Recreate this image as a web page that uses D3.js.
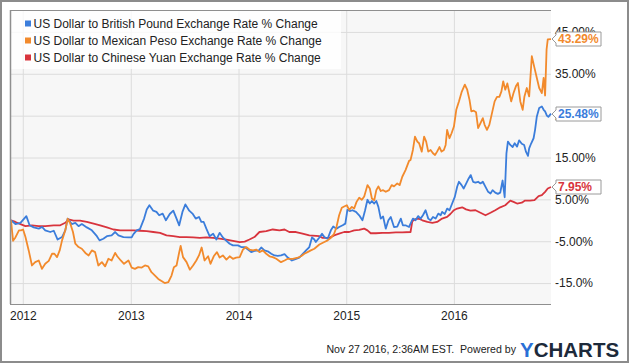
<!DOCTYPE html>
<html><head><meta charset="utf-8">
<script src="https://cdn.jsdelivr.net/npm/d3@7"></script>
<style>
html,body{margin:0;padding:0;background:#fff;}
svg{display:block;font-family:"Liberation Sans",Arial,sans-serif;}
</style></head>
<body>
<svg id="chart" width="631" height="364"></svg>
<script>
const seriesNames = [
  "US Dollar to British Pound Exchange Rate % Change",
  "US Dollar to Mexican Peso Exchange Rate % Change",
  "US Dollar to Chinese Yuan Exchange Rate % Change"
];
const seriesColors = ["#3b7ddb", "#f28a2c", "#d8343d"];
const endLabels = ["25.48%", "43.29%", "7.95%"];
const yTicks = [45, 35, 25, 15, 5, -5, -15];
const yTickLabels = ["45.00%", "35.00%", "25.00%", "15.00%", "5.00%", "-5.00%", "-15.0%"];
const xTicks = ["2012-01-01", "2013-01-01", "2014-01-01", "2015-01-01", "2016-01-01"];
const xTickLabels = ["2012", "2013", "2014", "2015", "2016"];

const gbp = [
["2011-11-22",0],["2011-12-07",-0.9],["2011-12-24",-0.6],["2012-01-13",1.0],["2012-01-24",-1.2],
["2012-02-07",-1.7],["2012-02-24",-2.0],["2012-03-06",-1.6],["2012-03-17",-2.4],["2012-04-03",-2.8],
["2012-04-15",-2.5],["2012-04-28",-4.6],["2012-05-13",-4.0],["2012-05-24",-2.4],["2012-06-01",0.4],
["2012-06-15",-0.9],["2012-06-27",-0.6],["2012-07-08",-1.4],["2012-07-19",-0.9],["2012-08-05",-1.7],
["2012-08-22",-2.4],["2012-09-08",-3.8],["2012-09-17",-4.8],["2012-09-30",-4.4],["2012-10-12",-3.8],
["2012-10-28",-3.6],["2012-11-09",-2.8],["2012-11-20",-3.6],["2012-12-07",-4.0],["2012-12-24",-4.1],
["2013-01-04",-4.1],["2013-01-10",-3.3],["2013-01-21",-2.4],["2013-02-01",-2.1],["2013-02-15",0.4],
["2013-02-24",2.6],["2013-03-05",3.6],["2013-03-18",2.3],["2013-03-29",2.0],["2013-04-07",1.2],
["2013-04-19",1.6],["2013-04-30",0.0],["2013-05-13",1.5],["2013-05-25",2.3],["2013-06-05",0.4],
["2013-06-14",-1.2],["2013-06-25",2.0],["2013-07-05",3.8],["2013-07-18",2.3],["2013-07-29",1.6],
["2013-08-09",0.4],["2013-08-20",0.8],["2013-08-28",-0.4],["2013-09-05",-0.4],["2013-09-14",-2.0],
["2013-09-25",-3.8],["2013-10-07",-3.2],["2013-10-18",-4.6],["2013-10-29",-3.0],["2013-11-09",-4.1],
["2013-11-21",-4.9],["2013-12-02",-5.6],["2013-12-13",-6.0],["2013-12-30",-6.0],["2014-01-10",-6.4],
["2014-01-22",-6.4],["2014-02-02",-7.0],["2014-02-13",-7.6],["2014-02-24",-7.3],["2014-03-11",-7.2],
["2014-03-19",-6.5],["2014-03-30",-7.2],["2014-04-10",-7.4],["2014-04-22",-8.0],["2014-05-03",-8.4],
["2014-05-14",-8.5],["2014-05-25",-8.4],["2014-06-06",-8.1],["2014-06-17",-8.9],["2014-07-01",-9.6],
["2014-07-15",-9.2],["2014-07-26",-8.9],["2014-08-06",-8.1],["2014-08-18",-7.2],["2014-08-29",-6.4],
["2014-09-07",-4.1],["2014-09-15",-4.6],["2014-09-20",-5.2],["2014-10-02",-4.1],["2014-10-11",-3.2],
["2014-10-19",-4.0],["2014-10-30",-4.4],["2014-11-10",-2.4],["2014-11-18",-1.5],["2014-11-29",-2.0],
["2014-12-08",-1.6],["2014-12-20",-1.2],["2014-12-29",-0.8],["2015-01-05",2.5],["2015-01-13",2.2],
["2015-01-22",2.4],["2015-02-03",2.0],["2015-02-14",1.2],["2015-02-25",0.0],["2015-03-06",2.4],
["2015-03-14",4.9],["2015-03-22",4.0],["2015-03-29",4.6],["2015-04-06",4.0],["2015-04-13",4.6],
["2015-04-20",3.2],["2015-04-28",0.4],["2015-05-06",0.9],["2015-05-15",-2.0],["2015-05-24",0.0],
["2015-06-01",0.8],["2015-06-12",-1.6],["2015-06-23",-1.5],["2015-07-05",0.4],["2015-07-12",-1.2],
["2015-07-21",-1.2],["2015-08-02",-1.6],["2015-08-07",-0.8],["2015-08-15",0.4],["2015-08-24",0.0],
["2015-09-02",1.0],["2015-09-10",0.4],["2015-09-18",1.2],["2015-09-27",2.4],["2015-10-06",0.4],
["2015-10-14",0.0],["2015-10-22",0.8],["2015-10-31",0.4],["2015-11-09",1.6],["2015-11-17",1.2],
["2015-11-22",2.0],["2015-12-01",1.5],["2015-12-09",2.8],["2015-12-17",2.4],["2015-12-26",4.0],
["2016-01-04",5.6],["2016-01-12",8.0],["2016-01-18",9.2],["2016-01-27",8.4],["2016-02-03",7.6],
["2016-02-11",8.7],["2016-02-20",10.0],["2016-02-27",10.8],["2016-03-06",9.2],["2016-03-14",9.0],
["2016-03-23",9.2],["2016-03-31",8.8],["2016-04-08",9.2],["2016-04-17",8.0],["2016-04-26",6.8],
["2016-05-04",6.4],["2016-05-11",7.2],["2016-05-20",6.6],["2016-05-29",6.3],["2016-06-06",6.6],
["2016-06-14",9.5],["2016-06-21",5.5],["2016-06-27",16.0],["2016-07-02",18.8],["2016-07-10",18.0],
["2016-07-18",17.5],["2016-07-25",18.4],["2016-08-02",17.6],["2016-08-09",19.1],["2016-08-18",18.3],
["2016-08-26",18.0],["2016-09-01",16.4],["2016-09-08",15.4],["2016-09-12",17.2],["2016-09-19",18.4],
["2016-09-27",19.6],["2016-10-02",21.6],["2016-10-08",24.8],["2016-10-16",26.8],["2016-10-25",27.2],
["2016-10-31",26.4],["2016-11-05",26.0],["2016-11-11",25.0],["2016-11-16",24.7],["2016-11-25",25.48]
];

const mxn = [
["2011-11-22",0],["2011-11-29",-4.9],["2011-12-07",-4.1],["2011-12-19",-2.4],["2011-12-26",-2.4],
["2012-01-02",-2.2],["2012-01-10",-4.0],["2012-01-21",-7.2],["2012-02-01",-10.8],["2012-02-12",-10.0],
["2012-02-24",-9.6],["2012-03-06",-11.6],["2012-03-17",-10.4],["2012-03-29",-9.7],["2012-04-09",-8.0],
["2012-04-17",-8.0],["2012-04-26",-8.8],["2012-05-05",-7.2],["2012-05-13",-4.8],["2012-05-24",-2.4],
["2012-06-01",0.4],["2012-06-10",-0.8],["2012-06-19",-2.8],["2012-06-27",-5.6],["2012-07-08",-6.4],
["2012-07-19",-6.8],["2012-07-31",-7.8],["2012-08-11",-8.4],["2012-08-22",-7.2],["2012-09-02",-7.6],
["2012-09-13",-10.8],["2012-09-25",-10.0],["2012-10-06",-11.0],["2012-10-17",-9.2],["2012-10-28",-9.6],
["2012-11-09",-7.8],["2012-11-16",-8.6],["2012-11-28",-9.6],["2012-12-09",-10.4],["2012-12-24",-9.6],
["2013-01-04",-11.3],["2013-01-15",-11.6],["2013-01-26",-11.2],["2013-02-07",-11.3],["2013-02-18",-10.8],
["2013-03-01",-11.0],["2013-03-12",-12.4],["2013-03-24",-13.2],["2013-04-04",-14.0],["2013-04-15",-14.5],
["2013-04-26",-15.0],["2013-05-08",-14.8],["2013-05-19",-13.2],["2013-05-27",-11.2],["2013-06-05",-10.8],
["2013-06-13",-8.0],["2013-06-19",-6.1],["2013-06-27",-8.8],["2013-07-09",-10.0],["2013-07-20",-11.8],
["2013-07-31",-10.8],["2013-08-11",-9.6],["2013-08-20",-8.4],["2013-08-29",-6.5],["2013-09-08",-9.6],
["2013-09-20",-8.6],["2013-09-28",-10.4],["2013-10-09",-8.6],["2013-10-20",-7.6],["2013-10-29",-8.9],
["2013-11-09",-8.4],["2013-11-21",-9.4],["2013-12-02",-8.6],["2013-12-13",-9.2],["2013-12-24",-8.9],
["2014-01-05",-8.8],["2014-01-16",-7.0],["2014-01-27",-6.4],["2014-02-07",-7.0],["2014-02-19",-7.2],
["2014-03-02",-7.0],["2014-03-13",-7.6],["2014-03-24",-7.2],["2014-04-05",-8.0],["2014-04-16",-8.6],
["2014-04-27",-8.8],["2014-05-09",-9.2],["2014-05-25",-10.0],["2014-06-06",-9.6],["2014-06-17",-9.2],
["2014-07-04",-9.2],["2014-07-21",-8.9],["2014-08-01",-8.6],["2014-08-12",-8.0],["2014-08-23",-7.6],
["2014-09-03",-7.2],["2014-09-15",-6.8],["2014-10-02",-5.8],["2014-10-19",-5.2],["2014-10-30",-4.8],
["2014-11-10",-4.2],["2014-11-21",-3.2],["2014-11-29",-1.6],["2014-12-08",1.2],["2014-12-17",3.0],
["2014-12-25",3.3],["2015-01-03",3.6],["2015-01-11",2.5],["2015-01-20",3.2],["2015-01-28",2.8],
["2015-02-05",4.4],["2015-02-14",5.4],["2015-02-23",4.9],["2015-03-03",5.7],["2015-03-14",8.4],
["2015-03-22",7.6],["2015-03-29",5.2],["2015-04-06",4.8],["2015-04-13",7.2],["2015-04-20",8.1],
["2015-04-28",7.0],["2015-05-06",7.2],["2015-05-15",6.8],["2015-05-26",7.2],["2015-06-04",8.4],
["2015-06-12",8.1],["2015-06-23",8.8],["2015-07-01",8.4],["2015-07-10",10.4],["2015-07-21",12.0],
["2015-08-02",14.2],["2015-08-07",14.4],["2015-08-15",16.8],["2015-08-22",20.0],["2015-08-30",18.8],
["2015-09-05",18.4],["2015-09-14",16.4],["2015-09-22",20.0],["2015-09-29",18.8],["2015-10-06",16.4],
["2015-10-14",16.8],["2015-10-22",16.0],["2015-10-29",15.6],["2015-11-05",16.4],["2015-11-13",17.5],
["2015-11-20",16.4],["2015-11-28",16.8],["2015-12-04",18.0],["2015-12-09",21.6],["2015-12-17",19.6],
["2015-12-24",20.8],["2016-01-01",22.4],["2016-01-09",26.4],["2016-01-18",28.4],["2016-01-27",30.6],
["2016-02-07",32.4],["2016-02-15",31.2],["2016-02-23",28.7],["2016-02-29",26.0],["2016-03-08",26.2],
["2016-03-16",25.8],["2016-03-23",22.0],["2016-03-31",23.2],["2016-04-08",24.4],["2016-04-14",22.8],
["2016-04-22",21.6],["2016-04-30",22.8],["2016-05-09",25.6],["2016-05-18",28.4],["2016-05-26",29.5],
["2016-06-03",29.5],["2016-06-10",30.8],["2016-06-16",33.2],["2016-06-23",31.2],["2016-06-30",32.7],
["2016-07-07",30.4],["2016-07-13",28.4],["2016-07-21",30.4],["2016-07-29",32.0],["2016-08-05",32.8],
["2016-08-13",28.4],["2016-08-21",26.4],["2016-08-27",29.6],["2016-09-04",31.6],["2016-09-12",29.6],
["2016-09-21",39.2],["2016-09-30",36.4],["2016-10-08",34.0],["2016-10-16",31.6],["2016-10-25",30.4],
["2016-10-31",34.0],["2016-11-05",29.8],["2016-11-10",40.8],["2016-11-14",43.2],["2016-11-25",43.29]
];

const cny = [
["2011-11-22",0],["2011-12-07",-0.4],["2011-12-24",-0.9],["2012-01-10",-1.4],["2012-02-01",-1.2],
["2012-02-24",-1.4],["2012-03-17",-1.4],["2012-04-15",-1.2],["2012-05-07",-1.2],["2012-05-24",-0.6],
["2012-06-04",0.2],["2012-06-21",-0.1],["2012-07-13",-0.1],["2012-08-05",-0.4],["2012-08-28",-0.8],
["2012-09-19",-1.2],["2012-10-12",-1.7],["2012-11-03",-2.2],["2012-11-26",-2.4],["2012-12-18",-2.4],
["2013-01-10",-2.4],["2013-02-01",-2.5],["2013-02-24",-2.6],["2013-03-18",-2.8],["2013-04-10",-3.0],
["2013-05-02",-3.6],["2013-05-25",-3.8],["2013-06-16",-4.0],["2013-07-09",-4.0],["2013-07-31",-4.1],
["2013-08-23",-4.2],["2013-09-14",-4.1],["2013-10-07",-4.2],["2013-10-29",-4.4],["2013-11-21",-4.6],
["2013-12-13",-4.9],["2014-01-05",-5.2],["2014-01-22",-5.1],["2014-02-07",-4.6],["2014-02-24",-4.0],
["2014-03-13",-2.8],["2014-04-05",-2.6],["2014-04-27",-2.2],["2014-05-20",-2.4],["2014-06-06",-2.2],
["2014-06-22",-2.8],["2014-07-15",-2.8],["2014-08-06",-3.2],["2014-08-29",-3.6],["2014-10-02",-3.8],
["2014-10-13",-4.2],["2014-11-05",-4.2],["2014-11-21",-3.6],["2014-12-08",-3.2],["2014-12-25",-2.8],
["2015-01-11",-2.8],["2015-01-28",-2.4],["2015-02-14",-2.3],["2015-03-03",-2.0],["2015-03-14",-2.4],
["2015-03-25",-3.1],["2015-04-11",-3.1],["2015-05-04",-3.0],["2015-05-26",-3.0],["2015-06-18",-2.9],
["2015-07-10",-2.9],["2015-08-07",-2.8],["2015-08-13",-0.2],["2015-08-24",0.3],["2015-09-04",0.4],
["2015-09-16",0.0],["2015-10-03",-0.4],["2015-10-20",-0.6],["2015-11-05",-0.4],["2015-11-22",0.4],
["2015-12-09",0.8],["2015-12-20",1.5],["2016-01-01",2.4],["2016-01-12",2.8],["2016-01-29",3.1],
["2016-02-11",2.6],["2016-02-26",2.3],["2016-03-14",2.4],["2016-03-31",1.8],["2016-04-17",1.2],
["2016-05-04",1.8],["2016-05-20",2.4],["2016-06-06",3.1],["2016-06-23",3.6],["2016-07-10",4.7],
["2016-07-21",4.4],["2016-08-02",4.0],["2016-08-18",4.2],["2016-08-29",4.7],["2016-09-15",4.7],
["2016-09-30",4.8],["2016-10-14",5.8],["2016-10-25",6.0],["2016-11-05",6.8],["2016-11-14",7.6],
["2016-11-25",7.95]
];

const allSeries = [gbp, mxn, cny];
const parse = d3.timeParse("%Y-%m-%d");

const svg = d3.select("#chart");
const plot = {left: 11, right: 551, top: 11, bottom: 304};

const x = d3.scaleTime()
  .domain([parse("2011-11-22"), parse("2016-11-25")])
  .range([plot.left, plot.right]);
const y = d3.scaleLinear().domain([-20, 50]).range([plot.bottom, plot.top]);

// outer frame
svg.append("rect").attr("x", 1).attr("y", 1).attr("width", 627).attr("height", 361)
  .attr("fill", "#fff").attr("stroke", "#8c8c8c").attr("stroke-width", 2);

// plot background
svg.append("rect").attr("x", plot.left).attr("y", plot.top)
  .attr("width", plot.right - plot.left).attr("height", plot.bottom - plot.top)
  .attr("fill", "#f7f7f7");

// horizontal grid
svg.append("g").attr("transform", `translate(${plot.left},0)`)
  .call(d3.axisLeft(y).tickValues(yTicks).tickSize(-(plot.right - plot.left)).tickFormat(""))
  .call(g => g.select(".domain").remove())
  .call(g => g.selectAll("line").attr("stroke", "#dcdcdc"));

// vertical grid
svg.append("g").attr("transform", `translate(0,${plot.bottom})`)
  .call(d3.axisBottom(x).tickValues(xTicks.map(parse)).tickSize(-(plot.bottom - plot.top)).tickFormat(""))
  .call(g => g.select(".domain").remove())
  .call(g => g.selectAll("line").attr("stroke", "#dcdcdc"));

// legend background (semi transparent)
svg.append("rect").attr("x", plot.left).attr("y", plot.top).attr("width", 330).attr("height", 58)
  .attr("fill", "#fff").attr("fill-opacity", 0.8);

// lines
const line = d3.line().x(d => x(parse(d[0]))).y(d => y(d[1]));
const order = [2, 0, 1];
order.forEach(i => {
  svg.append("path").datum(allSeries[i]).attr("d", line)
    .attr("fill", "none").attr("stroke", seriesColors[i])
    .attr("stroke-width", 1.8).attr("stroke-linejoin", "round");
});

// frame lines
svg.append("line").attr("x1", plot.left).attr("x2", plot.right).attr("y1", plot.top - 0.5).attr("y2", plot.top - 0.5)
  .attr("stroke", "#8f8f8f").attr("stroke-width", 1);
svg.append("line").attr("x1", plot.left - 0.5).attr("x2", plot.left - 0.5).attr("y1", plot.top - 1).attr("y2", plot.bottom)
  .attr("stroke", "#8f8f8f").attr("stroke-width", 1.5);

// x axis
svg.append("g").attr("transform", `translate(0,${plot.bottom})`)
  .call(d3.axisBottom(x).tickValues(xTicks.map(parse)).tickSize(0).tickPadding(7)
    .tickFormat((d, i) => xTickLabels[i]))
  .call(g => g.select(".domain").attr("stroke", "#8f8f8f").attr("d", `M${plot.left - 1},0.5H${plot.right}`))
  .call(g => g.selectAll("text").attr("fill", "#222").attr("font-size", 12)
    .attr("font-family", "'Liberation Sans', Arial, sans-serif"));

// y axis (right)
svg.append("g").attr("transform", `translate(${plot.right},0)`)
  .call(d3.axisRight(y).tickValues(yTicks).tickSize(0).tickPadding(4)
    .tickFormat((d, i) => yTickLabels[i]))
  .call(g => g.select(".domain").remove())
  .call(g => g.selectAll("text").attr("fill", "#222").attr("font-size", 12)
    .attr("font-family", "'Liberation Sans', Arial, sans-serif"));

// legend
const legend = svg.append("g");
seriesNames.forEach((name, i) => {
  const yy = 24 + i * 17;
  legend.append("rect").attr("x", 25).attr("y", yy - 3.5).attr("width", 6).attr("height", 6)
    .attr("fill", seriesColors[i]);
  legend.append("text").attr("x", 33.5).attr("y", yy + 4.3).attr("font-size", 12)
    .attr("fill", "#222").text(name);
});

// end flags
allSeries.forEach((s, i) => {
  const last = s[s.length - 1];
  const yy = Math.round(y(last[1]));
  const g = svg.append("g");
  const x0 = plot.right + 1, bx = plot.right + 5, bw = 45, bh = 7;
  g.append("path")
    .attr("d", `M${x0},${yy} L${bx},${yy - 4} L${bx},${yy - bh} L${bx + bw},${yy - bh} L${bx + bw},${yy + bh} L${bx},${yy + bh} L${bx},${yy + 4} Z`)
    .attr("fill", "#fff").attr("stroke", "#9a9a9a").attr("stroke-width", 1);
  g.append("text").attr("x", bx + 2).attr("y", yy + 4.3).attr("font-size", 12).attr("font-weight", "bold")
    .attr("fill", seriesColors[i]).text(endLabels[i]);
});

// footer
svg.append("text").attr("x", 516).attr("y", 353).attr("text-anchor", "end")
  .attr("font-size", 10.6).attr("fill", "#222").text("Nov 27 2016, 2:36AM EST.  Powered by")
  .attr("xml:space", "preserve").style("white-space", "pre");
const logo = svg.append("text").attr("x", 520).attr("y", 357).attr("font-size", 20.5)
  .attr("font-weight", "bold");
logo.append("tspan").attr("fill", "#2a6fd6").text("Y");
logo.append("tspan").attr("fill", "#1d2a3a").text("CHARTS");
</script>
</body></html>
